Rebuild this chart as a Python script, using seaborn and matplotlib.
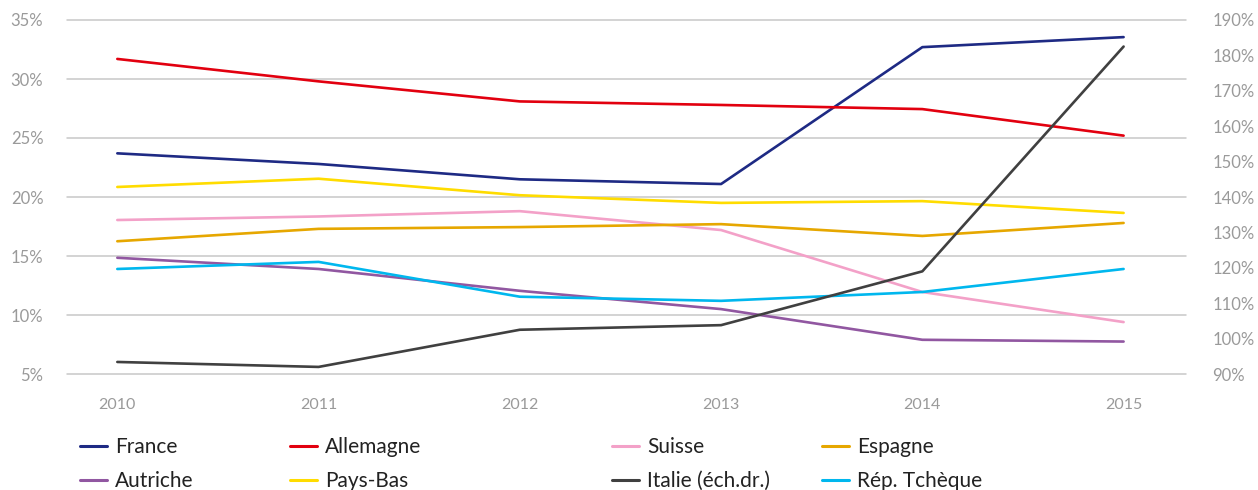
import matplotlib
matplotlib.use("Agg")
import matplotlib.pyplot as plt
from matplotlib.lines import Line2D
import seaborn as sns
import pandas as pd

years = [2010, 2011, 2012, 2013, 2014, 2015]
france = [23.7, 22.8, 21.5, 21.1, 32.7, 33.55]
allemagne = [31.7, 29.8, 28.1, 27.8, 27.45, 25.2]
suisse = [18.05, 18.35, 18.8, 17.2, 11.95, 9.4]
espagne = [16.25, 17.3, 17.45, 17.7, 16.7, 17.8]
autriche = [14.85, 13.9, 12.05, 10.5, 7.9, 7.75]
pays_bas = [20.85, 21.55, 20.15, 19.5, 19.65, 18.65]
rep_tcheque = [13.9, 14.5, 11.55, 11.2, 11.95, 13.9]
italie = [93.4, 92.0, 102.5, 103.8, 119.0, 182.5]

left_ticks = [5, 10, 15, 20, 25, 30, 35]
right_ticks = [90, 100, 110, 120, 130, 140, 150, 160, 170, 180, 190]

series = [
    ("France", france, "#1e2a84"),
    ("Allemagne", allemagne, "#e2000f"),
    ("Suisse", suisse, "#f3a1c8"),
    ("Espagne", espagne, "#e6a700"),
    ("Autriche", autriche, "#9157a1"),
    ("Pays-Bas", pays_bas, "#ffdc00"),
    ("Italie (éch.dr.)", italie, "#404040"),
    ("Rép. Tchèque", rep_tcheque, "#00b7ee"),
]

sns.set_style("white")
plt.rcParams['font.family'] = ['Lato', 'DejaVu Sans']

fig = plt.figure(figsize=(12.58, 4.9), dpi=100)
ax = fig.add_axes([67/1258, 1-374/490, (1186-67)/1258, (374-20)/490])
ax2 = ax.twinx()

lw = 1.9
for name, vals, col in series:
    df = pd.DataFrame({"year": years, "v": vals})
    target = ax2 if name.startswith("Italie") else ax
    sns.lineplot(data=df, x="year", y="v", ax=target, color=col, linewidth=lw, legend=False)

ax.set_xlim(2009.75, 2015.31)
ax.set_ylim(5, 35)
ax2.set_ylim(90, 190)
ax.set_yticks(left_ticks)
ax.set_yticklabels([f"{t}%" for t in left_ticks])
ax2.set_yticks(right_ticks)
ax2.set_yticklabels([f"{t}%" for t in right_ticks])
ax.set_xticks(years)
ax.set_xticklabels([str(y) for y in years])

ax.set_xlabel("")
ax.set_ylabel("")
ax2.set_ylabel("")

for a in (ax, ax2):
    for s in a.spines.values():
        s.set_visible(False)
    a.tick_params(length=0, colors="#9a9a9a", labelsize=12)
ax.tick_params(axis="y", pad=17)
ax2.tick_params(axis="y", pad=19)
ax.tick_params(axis="x", pad=17, labelsize=11.5)

for t in left_ticks:
    ax.axhline(t, color="#c8c8c8", linewidth=1.1, zorder=0, clip_on=False)
ax2.patch.set_visible(False)

# Legend: four columns placed individually
col_x = [80, 290, 612, 822]
rows = [[0, 4], [1, 5], [2, 6], [3, 7]]
for cx, idxs in zip(col_x, rows):
    handles = [Line2D([], [], color=series[i][2], linewidth=2.2) for i in idxs]
    labels = [series[i][0] for i in idxs]
    leg = fig.legend(handles, labels, loc="upper left",
                     bbox_to_anchor=(cx / 1258, 1 - 437/490),
                     frameon=False, fontsize=15, handlelength=1.3,
                     handletextpad=0.4, labelspacing=0.68,
                     borderaxespad=0, borderpad=0)
    for t in leg.get_texts():
        t.set_color("#222222")

fig.savefig("out.png", dpi=100)
